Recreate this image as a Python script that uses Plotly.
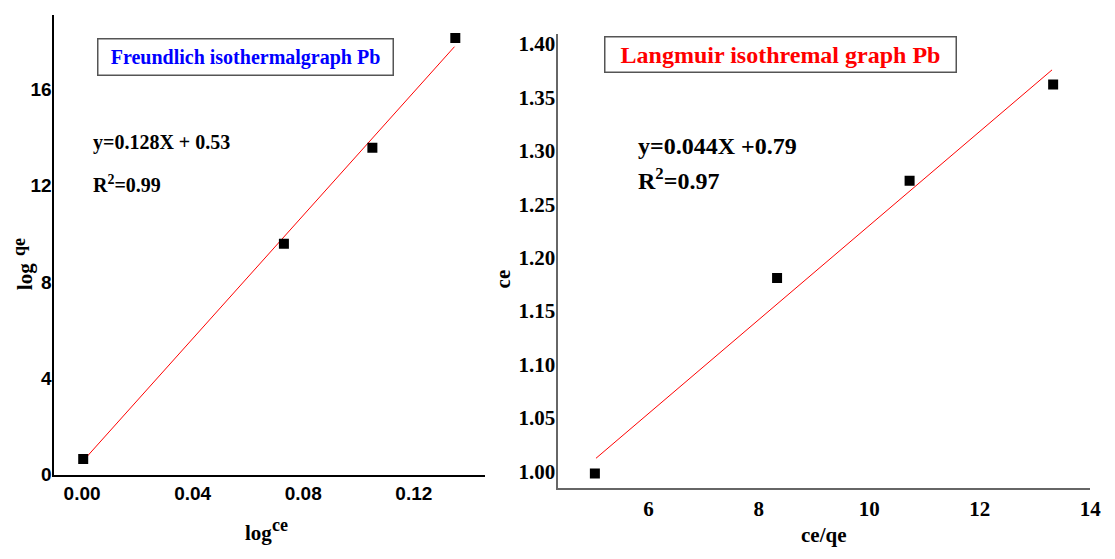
import plotly.graph_objects as go

# ---- data ----
f_x = [0.0004, 0.073, 0.105, 0.135]          # log ce
f_y = [0.65, 9.59, 13.58, 18.13]             # log qe
f_fit_x = [0.0005, 0.1347]
f_slope, f_int = 128.0, 0.53
f_fit_y = [f_int + f_slope * v for v in f_fit_x]
f_xticks = [0.00, 0.04, 0.08, 0.12]
f_xticklabels = ["0.00", "0.04", "0.08", "0.12"]
f_yticks = [0, 4, 8, 12, 16]
f_yticklabels = ["0", "4", "8", "12", "16"]

l_x = [5.03, 8.33, 10.73, 13.33]             # ce/qe
l_y = [0.998, 1.181, 1.272, 1.362]           # ce
l_fit_x = [5.05, 13.31]
l_slope, l_int = 0.044, 0.79
l_fit_y = [l_int + l_slope * v for v in l_fit_x]
l_xticks = [6, 8, 10, 12, 14]
l_xticklabels = ["6", "8", "10", "12", "14"]
l_yticks = [1.00, 1.05, 1.10, 1.15, 1.20, 1.25, 1.30, 1.35, 1.40]
l_yticklabels = ["1.00", "1.05", "1.10", "1.15", "1.20", "1.25", "1.30", "1.35", "1.40"]

W, H = 1115, 559
def px(x): return x / W
def py(y): return 1 - y / H

SERIF = "Liberation Serif"
SANS = "Liberation Sans"

def bold(labels): return ["<b>%s</b>" % s for s in labels]

fig = go.Figure()
fig.add_trace(go.Scatter(x=f_fit_x, y=f_fit_y, mode="lines",
                         line=dict(color="red", width=1), xaxis="x", yaxis="y", showlegend=False))
fig.add_trace(go.Scatter(x=f_x, y=f_y, mode="markers",
                         marker=dict(symbol="square", size=10, color="black"),
                         xaxis="x", yaxis="y", showlegend=False))
fig.add_trace(go.Scatter(x=l_fit_x, y=l_fit_y, mode="lines",
                         line=dict(color="red", width=1), xaxis="x2", yaxis="y2", showlegend=False))
fig.add_trace(go.Scatter(x=l_x, y=l_y, mode="markers",
                         marker=dict(symbol="square", size=10, color="black"),
                         xaxis="x2", yaxis="y2", showlegend=False))

fig.update_layout(
    width=W, height=H, margin=dict(l=0, r=0, t=0, b=0),
    paper_bgcolor="white", plot_bgcolor="white",
    font=dict(family=SERIF, color="black"),
    xaxis=dict(domain=[px(55), px(490)], range=[-0.01, 0.1458],
               tickvals=f_xticks, ticktext=bold(f_xticklabels),
               showline=True, linecolor="black", linewidth=2, showgrid=False, zeroline=False,
               ticks="", tickfont=dict(family=SANS, size=19, color="black"),
               anchor="y"),
    yaxis=dict(domain=[py(484), py(13)], range=[0, 19.1],
               tickvals=f_yticks, ticktext=bold(f_yticklabels),
               showline=True, linecolor="black", linewidth=2, showgrid=False, zeroline=False,
               ticks="", tickfont=dict(family=SANS, size=19, color="black"),
               ticklabelstandoff=-3, anchor="x"),
    xaxis2=dict(domain=[px(564), px(1101)], range=[4.37, 14.0],
                tickvals=l_xticks, ticktext=bold(l_xticklabels),
                showline=True, linecolor="#666666", linewidth=2, showgrid=False, zeroline=False,
                ticks="", tickfont=dict(family=SERIF, size=21, color="black"),
                anchor="y2"),
    yaxis2=dict(domain=[py(498), py(33)], range=[0.984, 1.409],
                tickvals=l_yticks, ticktext=bold(l_yticklabels),
                showline=True, linecolor="#666666", linewidth=2, showgrid=False, zeroline=False,
                ticks="", tickfont=dict(family=SERIF, size=21, color="black"),
                ticklabelstandoff=-3, anchor="x2"),
)

ann = []
ann.append(dict(text="<b>Freundlich isothermalgraph Pb</b>", x=px(248), y=py(56.5),
                xref="paper", yref="paper", xanchor="center", yanchor="middle", showarrow=False,
                font=dict(family=SERIF, size=20, color="blue"),
                width=292, height=33, bordercolor="#555555", borderwidth=1.5, borderpad=1,
                bgcolor="white"))
ann.append(dict(text="<b>Langmuir isothremal graph Pb</b>", x=px(788), y=py(54),
                xref="paper", yref="paper", xanchor="center", yanchor="middle", showarrow=False,
                font=dict(family=SERIF, size=24, color="red"),
                width=348, height=32, bordercolor="#555555", borderwidth=1.5, borderpad=1,
                bgcolor="white"))
ann.append(dict(text="<b>y=0.128X + 0.53</b>", x=px(92), y=py(144), xref="paper", yref="paper",
                xanchor="left", yanchor="middle", showarrow=False,
                font=dict(family=SERIF, size=20, color="black")))
ann.append(dict(text="<b>R<sup>2</sup>=0.99</b>", x=px(92), y=py(186), xref="paper", yref="paper",
                xanchor="left", yanchor="middle", showarrow=False,
                font=dict(family=SERIF, size=20, color="black")))
ann.append(dict(text="<b>y=0.044X +0.79</b>", x=px(642), y=py(147), xref="paper", yref="paper",
                xanchor="left", yanchor="middle", showarrow=False,
                font=dict(family=SERIF, size=24, color="black")))
ann.append(dict(text="<b>R<sup>2</sup>=0.97</b>", x=px(642), y=py(181), xref="paper", yref="paper",
                xanchor="left", yanchor="middle", showarrow=False,
                font=dict(family=SERIF, size=24, color="black")))
ann.append(dict(text="<b>log</b>", x=px(261), y=py(544), xref="paper", yref="paper",
                xanchor="center", yanchor="middle", showarrow=False,
                font=dict(family=SERIF, size=21, color="black")))
ann.append(dict(text="<b>ce</b>", x=px(283), y=py(535), xref="paper", yref="paper",
                xanchor="center", yanchor="middle", showarrow=False,
                font=dict(family=SERIF, size=18, color="black")))
ann.append(dict(text="<b>log</b>", x=px(26), y=py(281), xref="paper", yref="paper",
                xanchor="center", yanchor="middle", showarrow=False, textangle=-90,
                font=dict(family=SERIF, size=21, color="black")))
ann.append(dict(text="<b>qe</b>", x=px(19), y=py(251), xref="paper", yref="paper",
                xanchor="center", yanchor="middle", showarrow=False, textangle=-90,
                font=dict(family=SERIF, size=18, color="black")))
ann.append(dict(text="<b>ce/qe</b>", x=px(832), y=py(546), xref="paper", yref="paper",
                xanchor="center", yanchor="middle", showarrow=False,
                font=dict(family=SERIF, size=21, color="black")))
ann.append(dict(text="<b>ce</b>", x=px(508), y=py(283), xref="paper", yref="paper",
                xanchor="center", yanchor="middle", showarrow=False, textangle=-90,
                font=dict(family=SERIF, size=21, color="black")))
fig.update_layout(annotations=ann)

fig.write_html("out.html")
